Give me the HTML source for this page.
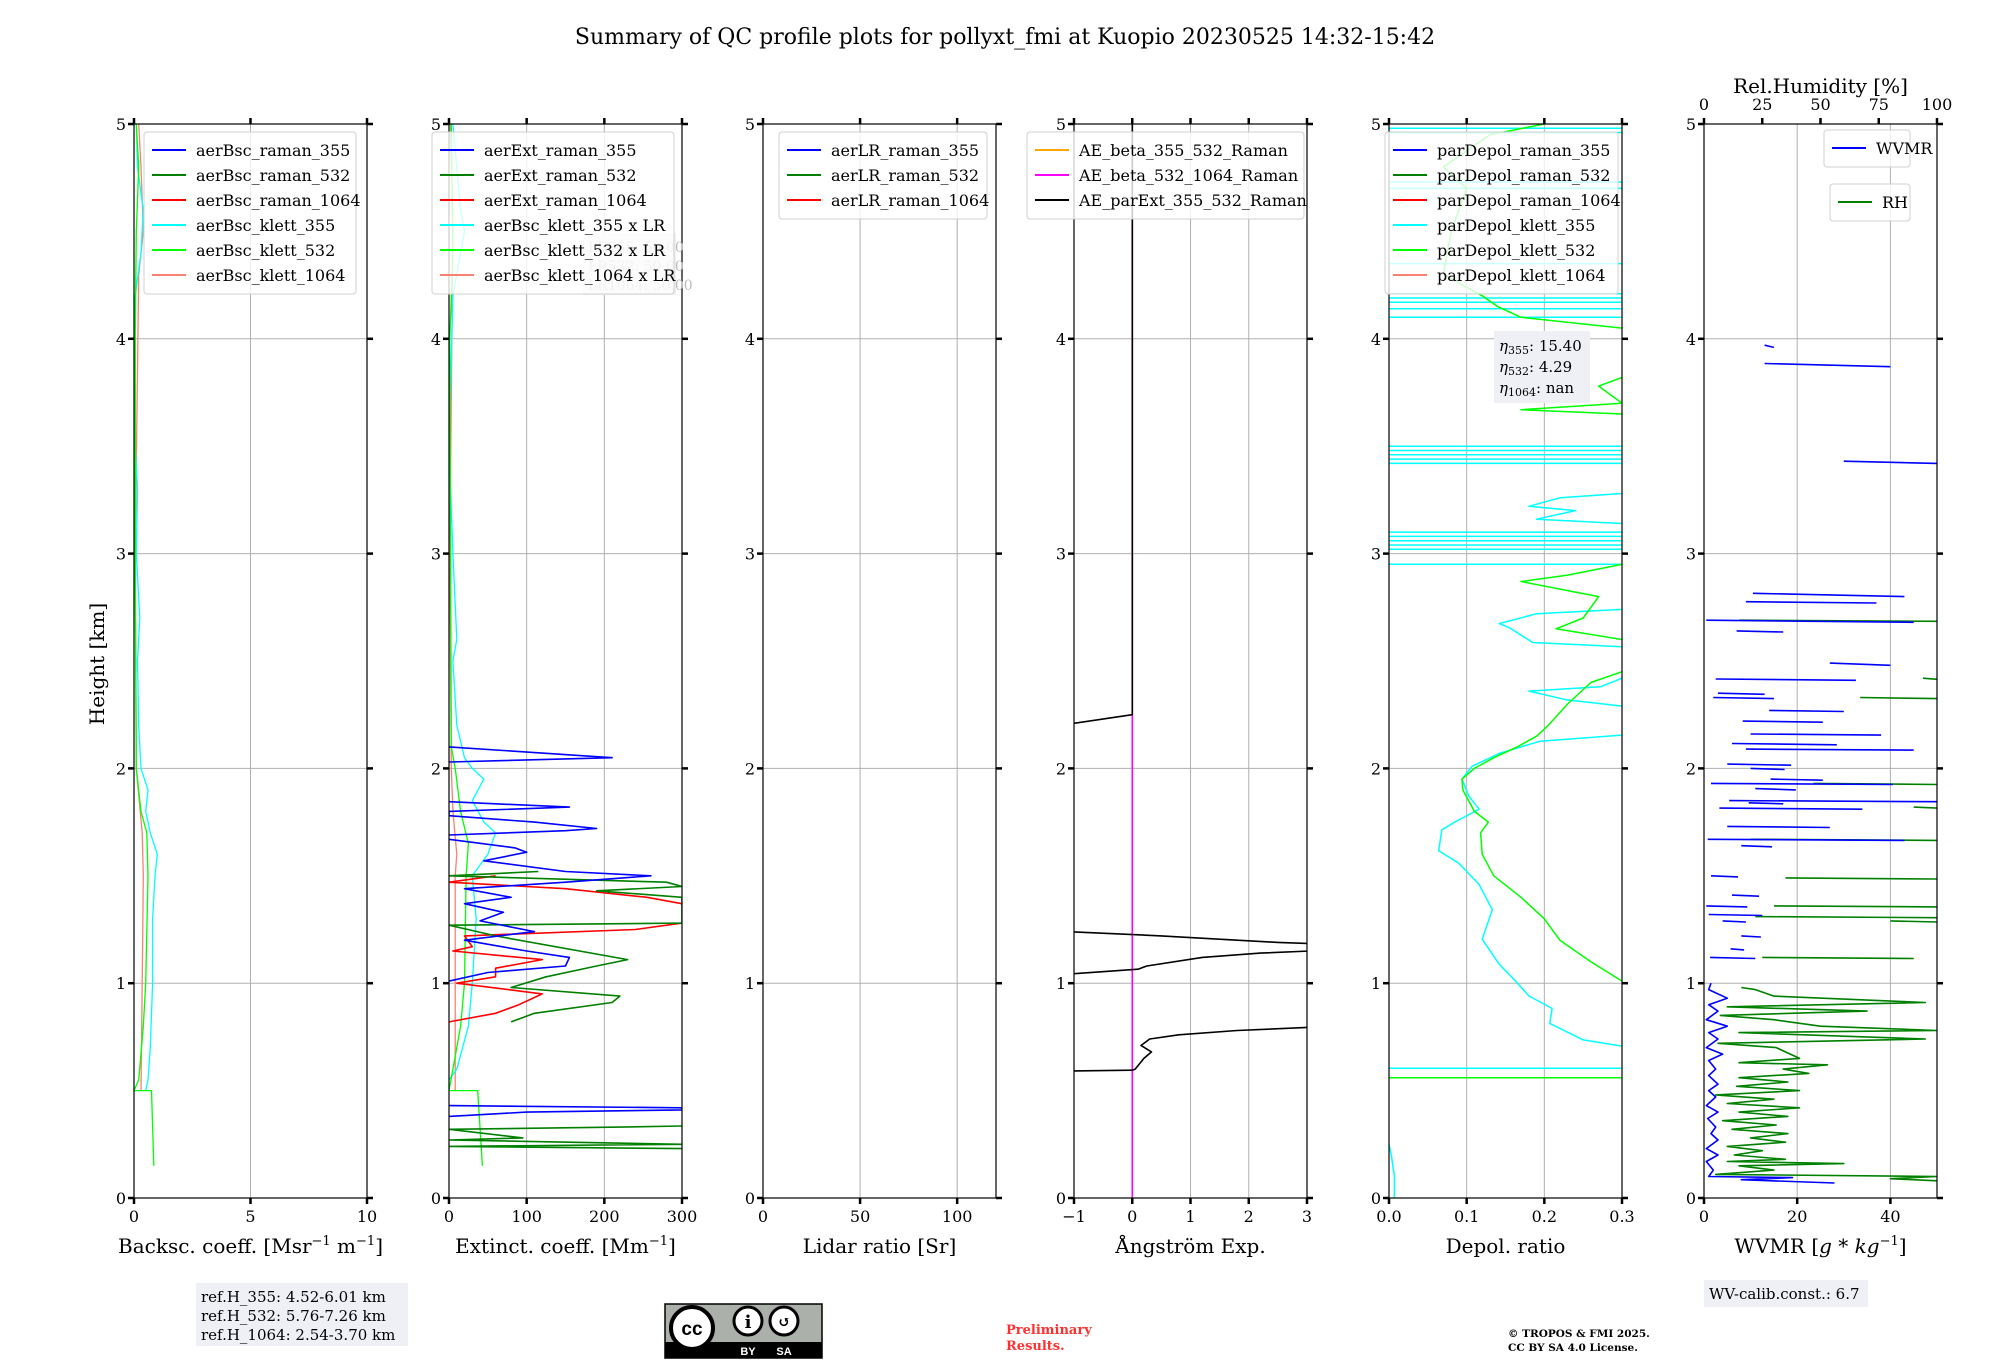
<!DOCTYPE html>
<html><head><meta charset="utf-8"><style>
body{margin:0;background:#fff}
svg{display:block;font-family:"DejaVu Serif","Liberation Serif",serif}
</style></head><body>
<svg id="fig" width="2000" height="1360" viewBox="0 0 2000 1360" xmlns="http://www.w3.org/2000/svg">
<rect width="2000" height="1360" fill="#fff"/>
<text x="1005" y="44" font-size="22" text-anchor="middle">Summary of QC profile plots for pollyxt_fmi at Kuopio 20230525 14:32-15:42</text>
<text x="0" y="0" font-size="20" text-anchor="middle" transform="translate(104,664) rotate(-90)">Height [km]</text>
<g id="panels"></g>
<g id="texts">
<rect x="196" y="1283" width="212" height="63" fill="#eef0f5"/>
<text x="201" y="1302" font-size="15">ref.H_355: 4.52-6.01 km</text>
<text x="201" y="1321" font-size="15">ref.H_532: 5.76-7.26 km</text>
<text x="201" y="1340" font-size="15">ref.H_1064: 2.54-3.70 km</text>
<rect x="1704" y="1280" width="164" height="27" fill="#eef0f5"/>
<text x="1709" y="1299" font-size="15">WV-calib.const.: 6.7</text>
<g>
<rect x="665" y="1304" width="157" height="54" fill="#abb1aa" stroke="#000" stroke-width="1.5"/>
<rect x="665" y="1342" width="157" height="16" fill="#000"/>
<circle cx="692" cy="1328" r="21" fill="#fff" stroke="#000" stroke-width="4"/>
<text x="692" y="1335" font-size="19" font-weight="bold" text-anchor="middle" font-family="Liberation Sans,sans-serif">cc</text>
<circle cx="748" cy="1321" r="14" fill="#fff" stroke="#000" stroke-width="3"/>
<text x="748" y="1328" font-size="18" font-weight="bold" text-anchor="middle">i</text>
<circle cx="784" cy="1321" r="14" fill="#fff" stroke="#000" stroke-width="3"/>
<text x="784" y="1327" font-size="15" font-weight="bold" text-anchor="middle">↺</text>
<text x="748" y="1355" font-size="11" font-weight="bold" fill="#fff" text-anchor="middle" font-family="Liberation Sans,sans-serif">BY</text>
<text x="784" y="1355" font-size="11" font-weight="bold" fill="#fff" text-anchor="middle" font-family="Liberation Sans,sans-serif">SA</text>
</g>
<text x="1006" y="1334" font-size="13" font-weight="bold" fill="#ff3030">Preliminary</text>
<text x="1006" y="1350" font-size="13" font-weight="bold" fill="#ff3030">Results.</text>
<text x="1508" y="1337" font-size="10.5" font-weight="bold">© TROPOS &amp; FMI 2025.</text>
<text x="1508" y="1351" font-size="10.5" font-weight="bold">CC BY SA 4.0 License.</text>
</g>
</svg>
<script>
// ---------- data ----------
const heightTicks=[0,1,2,3,4,5];
const bscTicks=[0,5,10];
const extTicks=[0,100,200,300];
const lrTicks=[0,50,100];
const aeTicks=[-1,0,1,2,3];
const depolTicks=[0,0.1,0.2,0.3];
const depolTickLabels=["0.0","0.1","0.2","0.3"];
const wvTicks=[0,20,40];
const rhTicks=[0,25,50,75,100];

const bscKlett355=[[0.5,0.5],[0.55,0.6],[0.7,0.7],[1.0,0.8],[1.3,0.8],[1.5,0.9],[1.6,1.0],[1.7,0.7],[1.8,0.5],[1.9,0.6],[2.0,0.3],[2.2,0.2],[2.5,0.15],[2.7,0.25],[3.0,0.1],[3.3,0.15],[3.5,0.05],[4.2,0.05],[4.4,0.3],[4.6,0.4],[4.8,0.15],[5.0,0.1]];
const bscKlett532=[[0.15,0.85],[0.5,0.75],[0.5,0],[0.55,0.2],[0.8,0.4],[1.0,0.5],[1.5,0.6],[1.7,0.55],[1.8,0.3],[2.0,0.1],[3.0,0.05],[4.0,0.05],[4.5,0.1],[4.8,0.2],[5.0,0.1]];
const bscKlett1064=[[0.5,0.3],[1.0,0.35],[1.5,0.4],[1.7,0.35],[2.0,0.1],[3.0,0.05],[4.3,0.2],[4.5,0.4],[4.8,0.3],[5.0,0.2]];

const extRaman355=[[2.1,0],[2.05,210],[2.03,0],null,[1.845,0],[1.82,155],[1.80,0],[1.78,0],[1.75,110],[1.72,190],[1.71,150],[1.69,0],null,[1.67,0],[1.63,85],[1.61,100],[1.57,45],[1.52,150],[1.50,260],[1.47,150],[1.44,20],[1.40,80],[1.37,20],[1.33,70],[1.29,40],[1.24,110],[1.20,20],[1.15,100],[1.12,155],[1.08,150],[1.05,50],[1.01,0],null,[0.43,0],[0.42,300],[0.41,300],[0.40,100],[0.38,0]];
const extRaman532=[[1.52,115],[1.50,0],[1.47,280],[1.45,300],[1.43,190],[1.40,300],[1.28,300],[1.27,0],[1.22,60],[1.11,230],[1.08,190],[1.03,125],[0.98,80],[0.94,220],[0.91,210],[0.86,110],[0.82,80],null,[0.335,300],[0.33,220],[0.32,0],[0.28,95],[0.27,0],[0.25,300],[0.24,0],[0.23,300]];
const extRaman1064=[[1.50,60],[1.47,0],[1.44,150],[1.40,255],[1.37,300],null,[1.28,300],[1.25,240],[1.22,20],[1.17,30],[1.15,5],[1.11,120],[1.07,60],[1.03,60],[1.0,10],[0.95,120],[0.90,90],[0.86,60],[0.82,0]];
const extKlett355=[[0.55,0],[0.6,10],[0.8,25],[1.0,30],[1.3,35],[1.5,30],[1.6,50],[1.7,60],[1.75,45],[1.85,30],[1.95,45],[2.0,30],[2.05,20],[2.2,10],[2.5,5],[2.6,10],[3.0,5],[3.5,0],[4.2,5],[4.5,20],[4.6,15],[5.0,5]];
const extKlett532=[[0.15,43],[0.5,37],[0.5,0],[0.6,5],[0.8,15],[1.0,20],[1.5,22],[1.65,25],[1.8,15],[2.0,8],[2.1,3],[3.0,2],[4.0,1],[4.4,5],[5.0,3]];
const extKlett1064=[[0.5,8],[1.0,8],[1.5,8],[1.6,10],[1.8,5],[2.0,3],[3.0,1],[4.5,5],[5.0,2]];

const aeBeta532=[[0,0],[5,0]];
const aeParExt=[[0,0],[0.24,0],[0.245,3.5],null,[0.59,-1.5],[0.595,0],[0.6,0.05],[0.65,0.2],[0.68,0.33],[0.71,0.15],[0.74,0.3],[0.76,0.8],[0.78,1.8],[0.8,3.5],null,[1.035,-1.5],[1.065,0.1],[1.08,0.25],[1.12,1.2],[1.14,2.2],[1.155,3.5],null,[1.245,-1.5],[1.22,0.5],[1.2,1.8],[1.19,2.5],[1.18,3.5],null,[2.19,-1.5],[2.25,0],[5.0,0]];

const depolKlett355=[[0,0.007],[0.1,0.007],[0.2,0.003],[0.25,0],null,[0.604,0],[0.604,0.3],null,[0.707,0.3],[0.736,0.25],[0.813,0.207],[0.882,0.21],[0.941,0.18],[1.01,0.163],[1.088,0.142],[1.205,0.12],[1.342,0.133],[1.46,0.116],[1.558,0.09],[1.617,0.064],[1.714,0.068],[1.753,0.086],[1.81,0.116],[1.87,0.103],[1.95,0.094],[2.01,0.107],[2.07,0.142],[2.126,0.194],[2.155,0.3],null,[2.29,0.3],[2.32,0.228],[2.36,0.18],[2.38,0.272],[2.42,0.3],null,[2.566,0.3],[2.586,0.185],[2.655,0.155],[2.674,0.142],[2.72,0.19],[2.74,0.3],null,[2.95,0],[2.95,0.3],null,[3.02,0],[3.02,0.3],null,[3.04,0],[3.04,0.3],null,[3.06,0],[3.06,0.3],null,[3.08,0],[3.08,0.3],null,[3.10,0],[3.10,0.3],null,[3.14,0.3],[3.16,0.19],[3.20,0.24],[3.22,0.18],[3.26,0.22],[3.28,0.3],null,[3.42,0],[3.42,0.3],null,[3.44,0],[3.44,0.3],null,[3.46,0],[3.46,0.3],null,[3.48,0],[3.48,0.3],null,[3.50,0],[3.50,0.3],null,[4.10,0],[4.10,0.3],null,[4.14,0],[4.14,0.3],null,[4.17,0],[4.17,0.3],null,[4.19,0],[4.19,0.3],null,[4.21,0],[4.21,0.3],null,[4.35,0],[4.35,0.3],null,[4.70,0],[4.70,0.3],null,[4.73,0],[4.73,0.3],null,[4.96,0],[4.96,0.3],null,[4.98,0],[4.98,0.3]];
const depolKlett532=[[0.56,0],[0.56,0.3],null,[1.01,0.3],[1.1,0.26],[1.2,0.22],[1.3,0.2],[1.4,0.17],[1.5,0.135],[1.6,0.12],[1.7,0.118],[1.75,0.128],[1.8,0.11],[1.9,0.095],[1.95,0.094],[2.0,0.11],[2.05,0.135],[2.1,0.165],[2.15,0.19],[2.2,0.205],[2.3,0.23],[2.4,0.26],[2.45,0.3],null,[2.6,0.3],[2.65,0.215],[2.7,0.25],[2.8,0.27],[2.87,0.17],[2.9,0.23],[2.95,0.3],null,[3.65,0.3],[3.67,0.17],[3.7,0.3],[3.78,0.27],[3.82,0.3],null,[4.05,0.3],[4.1,0.17],[4.15,0.14],[4.2,0.12],[4.3,0.07],[4.5,0.08],[4.7,0.10],[4.8,0.07],[4.95,0.13],[5.0,0.2]];

const wvmr=[[3.97,13],[3.96,15],null,[3.885,13],[3.87,40],null,[3.43,30],[3.42,50],null,[2.815,10.5],[2.80,43],null,[2.776,9],[2.77,37],null,[2.69,0.5],[2.68,45],null,[2.64,7],[2.635,17],null,[2.49,27],[2.48,40],null,[2.416,2.5],[2.41,32.6],null,[2.35,3],[2.345,13],null,[2.33,2],[2.325,15],null,[2.27,14],[2.265,30],null,[2.22,8.3],[2.215,25.5],null,[2.16,10],[2.155,38],null,[2.116,6],[2.11,28.5],null,[2.09,9],[2.085,45],null,[2.02,5],[2.015,18.7],null,[2.0,10],[1.995,17.3],null,[1.95,14.3],[1.945,25.5],null,[1.93,1.5],[1.925,40.5],null,[1.906,11],[1.90,19.7],null,[1.85,5.4],[1.845,50],null,[1.84,9.6],[1.835,17],null,[1.815,3.3],[1.81,34],null,[1.73,5],[1.725,27],null,[1.67,0.8],[1.665,43],null,[1.64,8],[1.635,14.6],null,[1.5,1.5],[1.495,7.3],null,[1.41,6],[1.405,11.8],null,[1.36,0.5],[1.355,9.3],null,[1.32,1],[1.315,12.5],null,[1.29,4],[1.285,9],null,[1.22,8],[1.215,12.2],null,[1.16,5.7],[1.155,8.6],null,[1.12,1.3],[1.115,11],null,[1.0,1.5],[0.97,1],[0.93,5],[0.9,1],[0.87,3],[0.83,0.5],[0.8,5],[0.77,1],[0.74,3],[0.7,0.5],[0.67,4],[0.64,1],[0.6,2.5],[0.57,1],[0.53,3],[0.5,1],[0.47,2.5],[0.43,0.5],[0.4,3],[0.37,0.8],[0.33,2.5],[0.3,1.5],[0.27,3],[0.23,0.5],[0.2,3],[0.17,0.5],[0.13,2],[0.1,1],[0.095,19],[0.085,8],[0.07,28]];
const rh=[[2.69,15],[2.685,100],null,[2.42,94],[2.415,100],null,[2.33,67],[2.325,100],null,[1.93,47],[1.925,100],null,[1.82,90],[1.815,100],null,[1.67,20],[1.665,100],null,[1.49,35],[1.485,100],null,[1.36,30],[1.355,100],null,[1.31,22],[1.305,100],null,[1.29,80],[1.285,100],null,[1.12,25],[1.115,90],null,[0.98,16],[0.97,22],[0.94,30],[0.91,95],[0.89,10],[0.87,70],[0.85,7],[0.83,30],[0.80,50],[0.78,100],[0.77,15],[0.74,95],[0.72,6],[0.70,31],[0.65,41],[0.63,15],[0.62,53],[0.60,34],[0.58,45],[0.56,15],[0.54,36],[0.52,14],[0.50,41],[0.48,5],[0.46,30],[0.44,10],[0.42,41],[0.40,15],[0.38,36],[0.36,8],[0.34,31],[0.32,12],[0.30,36],[0.28,20],[0.26,35],[0.24,10],[0.22,25],[0.20,13],[0.18,35],[0.17,10],[0.16,60],[0.15,15],[0.13,30],[0.11,5],[0.10,100],[0.09,80],[0.08,100]];

// ---------- drawing ----------
const NS="http://www.w3.org/2000/svg";
const root=document.getElementById('panels');
const PL=[134,449,763,1074,1389,1704], PW=233, YT=124, YB=1198;
function yOf(h){return YB-(h/5)*(YB-YT);}
function mk(tag,at,parent){const e=document.createElementNS(NS,tag);for(const k in at)e.setAttribute(k,at[k]);(parent||root).appendChild(e);return e;}

function panel(i,xmin,xmax,ticks,labels,xlabel){
  const L=PL[i];
  const g=mk('g',{});
  
  
  const xOf=v=>L+(v-xmin)/(xmax-xmin)*PW;
  const cp=mk('clipPath',{id:'clip'+i},g);mk('rect',{x:L,y:YT,width:PW,height:YB-YT},cp);
  const grid=mk('g',{},g);
  
  
  ticks.forEach(t=>mk('line',{x1:xOf(t),x2:xOf(t),y1:YT,y2:YB,stroke:'#b0b0b0','stroke-width':1},grid));
  heightTicks.forEach(h=>mk('line',{x1:L,x2:L+PW,y1:yOf(h),y2:yOf(h),stroke:'#b0b0b0','stroke-width':1},grid));
  const series=mk('g',{'clip-path':'url(#clip'+i+')'},g);
  const frame=mk('rect',{x:L,y:YT,width:PW,height:YB-YT,fill:'none',stroke:'#000','stroke-width':1.2},g);
  
  
  heightTicks.forEach(h=>{
    mk('line',{x1:L-6,x2:L,y1:yOf(h),y2:yOf(h),stroke:'#000','stroke-width':2.5},g);
    mk('line',{x1:L+PW,x2:L+PW+6,y1:yOf(h),y2:yOf(h),stroke:'#000','stroke-width':2.5},g);
    const t=mk('text',{x:L-8,y:yOf(h)+6,'font-size':16,'text-anchor':'end'},g);t.textContent=h;
    
    
  });
  ticks.forEach((v,k)=>{
    mk('line',{x1:xOf(v),x2:xOf(v),y1:YB,y2:YB+6,stroke:'#000','stroke-width':2.5},g);
    if(i!==5) mk('line',{x1:xOf(v),x2:xOf(v),y1:YT-6,y2:YT,stroke:'#000','stroke-width':2.5},g);
    const t=mk('text',{x:xOf(v),y:YB+24,'font-size':16,'text-anchor':'middle'},g);
    t.textContent=labels?labels[k]:(v<0?'\u2212'+(-v):v);
    
    
  });
  const xl=mk('text',{x:L+PW/2,y:1253,'font-size':20,'text-anchor':'middle'},g);
  xl.innerHTML=xlabel;
  
  
  return {xOf,series,g};
}
function line(p,data,color,w,name,xf){
  const f=xf||p.xOf;let d='',pen=false;
  data.forEach(pt=>{if(!pt){pen=false;return;}d+=(pen?'L':'M')+f(pt[1]).toFixed(1)+' '+yOf(pt[0]).toFixed(1);pen=true;});
  const e=mk('path',{d:d,fill:'none',stroke:color,'stroke-width':w,'stroke-linejoin':'round'},p.series);
  
  
}
function legend(p,x,y,w,items){
  const lg=mk('g',{},p.g);
  
  
  mk('rect',{x:x,y:y,width:w,height:items.length*25+12,rx:3,fill:'rgba(255,255,255,0.8)',stroke:'#d0d0d0'},lg);
  items.forEach((it,k)=>{
    const cy=y+18+k*25;
    mk('line',{x1:x+8,x2:x+42,y1:cy,y2:cy,stroke:it[1],'stroke-width':2},lg);
    const t=mk('text',{x:x+52,y:cy+6,'font-size':16},lg);t.textContent=it[0];
    
    
  });
}
const C={b:'#0000ff',g:'#008000',r:'#ff0000',c:'#00ffff',lg:'#00ff00',s:'#fa8072',o:'#ffa500',m:'#ff00ff',k:'#000'};

// panel 1
let p=panel(0,0,10,bscTicks,null,'Backsc. coeff. [Msr<tspan font-size="13" dy="-8">−1</tspan><tspan dy="8"> m</tspan><tspan font-size="13" dy="-8">−1</tspan><tspan dy="8">]</tspan>');
line(p,bscKlett1064,C.s,1.3,'bsc-klett-1064');line(p,bscKlett355,C.c,1.3,'bsc-klett-355');line(p,bscKlett532,C.lg,1.3,'bsc-klett-532');
legend(p,144,132,212,[['aerBsc_raman_355',C.b],['aerBsc_raman_532',C.g],['aerBsc_raman_1064',C.r],['aerBsc_klett_355',C.c],['aerBsc_klett_532',C.lg],['aerBsc_klett_1064',C.s]]);
// panel 2
p=panel(1,0,300,extTicks,null,'Extinct. coeff. [Mm<tspan font-size="13" dy="-8">−1</tspan><tspan dy="8">]</tspan>');
const lrb=mk('g',{},p.g);
mk('rect',{x:583,y:233,width:93,height:62,fill:'#eef0f5'},lrb);
['LR355: 50.00','LR532: 50.00','LR1064: 50.00'].forEach((s,k)=>{const t=mk('text',{x:588,y:252+k*19,'font-size':14,fill:'#bbb'},lrb);t.textContent=s;});
line(p,extKlett1064,C.s,1.3,'ext-klett-1064');line(p,extKlett355,C.c,1.3,'ext-klett-355');line(p,extKlett532,C.lg,1.3,'ext-klett-532');
line(p,extRaman1064,C.r,1.6,'ext-raman-1064');line(p,extRaman532,C.g,1.6,'ext-raman-532');line(p,extRaman355,C.b,1.6,'ext-raman-355');
legend(p,432,132,242,[['aerExt_raman_355',C.b],['aerExt_raman_532',C.g],['aerExt_raman_1064',C.r],['aerBsc_klett_355 x LR',C.c],['aerBsc_klett_532 x LR',C.lg],['aerBsc_klett_1064 x LR',C.s]]);
// panel 3
p=panel(2,0,120,lrTicks,null,'Lidar ratio [Sr]');
legend(p,779,132,208,[['aerLR_raman_355',C.b],['aerLR_raman_532',C.g],['aerLR_raman_1064',C.r]]);
// panel 4
p=panel(3,-1,3,aeTicks,null,'Ångström Exp.');
line(p,aeBeta532,C.m,1.6,'ae-beta-532-1064');line(p,aeParExt.slice(2),C.k,1.6,'ae-parext-355-532');
legend(p,1027,132,277,[['AE_beta_355_532_Raman',C.o],['AE_beta_532_1064_Raman',C.m],['AE_parExt_355_532_Raman',C.k]]);
// panel 5
p=panel(4,0,0.3,depolTicks,depolTickLabels,'Depol. ratio');
line(p,depolKlett355,C.c,1.5,'depol-klett-355');line(p,depolKlett532,C.lg,1.5,'depol-klett-532');
legend(p,1385,132,233,[['parDepol_raman_355',C.b],['parDepol_raman_532',C.g],['parDepol_raman_1064',C.r],['parDepol_klett_355',C.c],['parDepol_klett_532',C.lg],['parDepol_klett_1064',C.s]]);
const eb=mk('g',{},p.g);


mk('rect',{x:1494,y:331,width:96,height:72,fill:'#eef0f5'},eb);
[['355','15.40'],['532','4.29'],['1064','nan']].forEach((s,k)=>{const t=mk('text',{x:1499,y:351+k*21,'font-size':15},eb);t.innerHTML='<tspan font-style="italic">η</tspan><tspan font-size="11" dy="3">'+s[0]+'</tspan><tspan dy="-3">: '+s[1]+'</tspan>';});
// panel 6
p=panel(5,0,50,wvTicks,null,'WVMR [<tspan font-style="italic">g</tspan> * <tspan font-style="italic">kg</tspan><tspan font-size="13" dy="-8">−1</tspan><tspan dy="8">]</tspan>');
const rhX=v=>PL[5]+v/100*PW;
line(p,rh,C.g,1.6,'rh-profile',rhX);line(p,wvmr,C.b,1.6,'wvmr-profile');
rhTicks.forEach(v=>{mk('line',{x1:rhX(v),x2:rhX(v),y1:YT-6,y2:YT,stroke:'#000','stroke-width':2.5},p.g);
  const t=mk('text',{x:rhX(v),y:YT-14,'font-size':16,'text-anchor':'middle'},p.g);t.textContent=v;
  
  });
const rt=mk('text',{x:PL[5]+PW/2,y:93,'font-size':20,'text-anchor':'middle'},p.g);rt.textContent='Rel.Humidity [%]';


legend(p,1824,130,86,[['WVMR',C.b]]);
legend(p,1830,184,80,[['RH',C.g]]);
</script>
</body></html>
